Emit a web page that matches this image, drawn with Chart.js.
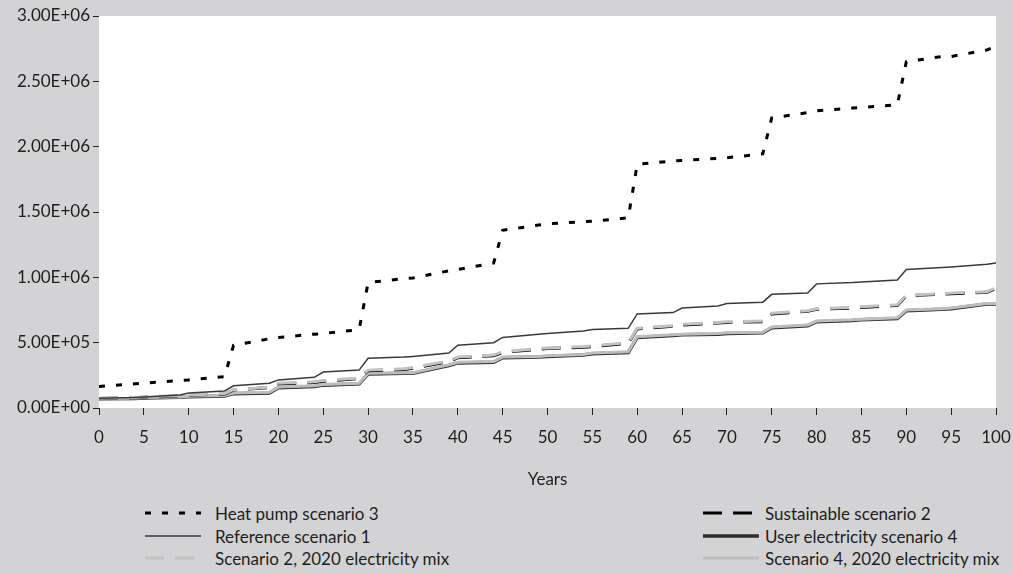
<!DOCTYPE html>
<html>
<head>
<meta charset="utf-8">
<script src="https://cdn.jsdelivr.net/npm/chart.js@4.4.1/dist/chart.umd.min.js"></script>
<style>
  html, body { margin:0; padding:0; background:#d3d3d5; width:1013px; height:574px; overflow:hidden; }
  #wrap { position:relative; width:1013px; height:574px; font-family: Lato, "Open Sans", sans-serif; color:#1e1e1e; }
  #c { position:absolute; left:0; top:0; }
  .leg { position:absolute; height:20px; display:flex; align-items:center; font-size:17px; white-space:nowrap; }
  .leg svg { display:block; }
</style>
</head>
<body>
<div id="wrap">
  <canvas id="c" width="1013" height="500"></canvas>
  <div id="legend"></div>
</div>
<script>
// ---- Data ----
const years = [0,4,5,9,10,14,15,19,20,24,25,29,30,34,35,39,40,44,45,49,50,54,55,59,60,64,65,69,70,74,75,79,80,84,85,89,90,94,95,99,100];

const heatPump3 = [165000,185000,190000,210000,215000,240000,480000,530000,540000,565000,570000,600000,960000,990000,995000,1050000,1060000,1110000,1360000,1400000,1410000,1425000,1430000,1455000,1865000,1890000,1895000,1910000,1915000,1945000,2220000,2260000,2275000,2295000,2300000,2320000,2650000,2690000,2690000,2740000,2770000];

const reference1 = [75000,80000,85000,100000,115000,130000,170000,190000,215000,235000,275000,290000,380000,390000,395000,420000,480000,500000,540000,565000,570000,590000,600000,610000,720000,730000,765000,780000,800000,810000,870000,880000,950000,960000,965000,980000,1060000,1075000,1080000,1100000,1110000];

const sustainable2 = [73000,78000,83000,92000,97000,107000,137000,157000,185000,195000,205000,225000,285000,295000,305000,355000,385000,400000,425000,450000,455000,465000,470000,495000,605000,625000,635000,650000,655000,660000,720000,740000,755000,765000,770000,785000,860000,870000,875000,885000,915000];

const scen2Mix2020 = [75000,80000,85000,95000,100000,110000,140000,160000,190000,200000,210000,230000,290000,300000,310000,360000,390000,405000,430000,455000,460000,470000,475000,500000,610000,630000,640000,655000,660000,665000,725000,745000,760000,770000,775000,790000,865000,875000,880000,890000,920000];

const userElec4 = [70000,73000,77000,82000,87000,92000,110000,115000,155000,165000,175000,185000,260000,265000,265000,325000,345000,350000,385000,390000,395000,405000,415000,425000,540000,555000,560000,565000,570000,575000,615000,630000,660000,670000,675000,685000,745000,755000,760000,795000,795000];

const scen4Mix2020 = [72000,75000,80000,85000,90000,95000,115000,120000,160000,170000,180000,190000,265000,270000,270000,330000,350000,355000,390000,395000,400000,410000,420000,430000,545000,560000,565000,570000,575000,580000,620000,635000,665000,675000,680000,690000,750000,760000,765000,800000,800000];

const seriesNames = ["Heat pump scenario 3","Reference scenario 1","Scenario 2, 2020 electricity mix","Sustainable scenario 2","User electricity scenario 4","Scenario 4, 2020 electricity mix"];
const yTickLabels = ["0.00E+00","5.00E+05","1.00E+06","1.50E+06","2.00E+06","2.50E+06","3.00E+06"];
const xTitle = "Years";

// ---- Styles ----
const styles = {
  "Heat pump scenario 3":            { color:"#000000", width:3,   dash:[6,11], order:1 },
  "Reference scenario 1":            { color:"#3a3a3a", width:1.5, dash:[],     order:2 },
  "Scenario 2, 2020 electricity mix":{ color:"#c2c2c2", width:3,   dash:[19,11],order:3 },
  "Sustainable scenario 2":          { color:"#000000", width:3,   dash:[19,11],order:4 },
  "User electricity scenario 4":     { color:"#2e2e2e", width:3.5, dash:[],     order:6 },
  "Scenario 4, 2020 electricity mix":{ color:"#bdbdbd", width:3,   dash:[],     order:5 }
};
const seriesValues = [heatPump3, reference1, scen2Mix2020, sustainable2, userElec4, scen4Mix2020];

const datasets = seriesNames.map((name, i) => ({
  label: name,
  data: years.map((yr, k) => ({ x: yr, y: seriesValues[i][k] })),
  borderColor: styles[name].color,
  borderWidth: styles[name].width,
  borderDash: styles[name].dash,
  order: styles[name].order,
  pointRadius: 0,
  tension: 0,
  fill: false
}));

const FONT = { family: "Lato, 'Open Sans', sans-serif", size: 17 };

const plotBg = {
  id: 'plotBg',
  beforeDraw(chart) {
    const { ctx, chartArea: a } = chart;
    ctx.save();
    ctx.fillStyle = '#ffffff';
    ctx.fillRect(a.left, a.top, a.right - a.left, a.bottom - a.top);
    ctx.restore();
  }
};

new Chart(document.getElementById('c'), {
  type: 'line',
  data: { datasets },
  plugins: [plotBg],
  options: {
    responsive: false,
    animation: false,
    layout: { padding: { left: 0, right: 17, top: 16, bottom: 0 } },
    plugins: { legend: { display: false }, tooltip: { enabled: false } },
    scales: {
      x: {
        type: 'linear', min: 0, max: 100,
        ticks: { stepSize: 5, font: FONT, color: '#1e1e1e', padding: 12, maxRotation: 0, autoSkip: false },
        grid: { drawOnChartArea: false, drawTicks: true, tickLength: 7, color: '#222', lineWidth: 1 },
        border: { display: false },
        title: { display: true, text: xTitle, font: FONT, color: '#1e1e1e', padding: { top: 4, bottom: 10 } },
        afterFit(s) { s.height = 92; s.paddingRight = 0; s.paddingLeft = 0; }
      },
      y: {
        min: 0, max: 3000000,
        ticks: { stepSize: 500000, font: FONT, color: '#1e1e1e', padding: 3,
                 callback: (v, i) => yTickLabels[i] },
        grid: { drawOnChartArea: false, drawTicks: true, tickLength: 6, color: '#222', lineWidth: 1 },
        border: { display: false },
        afterFit(s) { s.width = 99; s.paddingTop = 0; s.paddingBottom = 0; }
      }
    }
  }
});

// ---- HTML legend (two columns) ----
const legendCols = [
  { sampleX: 145, textX: 215, items: ["Heat pump scenario 3","Reference scenario 1","Scenario 2, 2020 electricity mix"] },
  { sampleX: 703, textX: 765, items: ["Sustainable scenario 2","User electricity scenario 4","Scenario 4, 2020 electricity mix"] }
];
const rowY = [513, 536, 558];
const legend = document.getElementById('legend');
legendCols.forEach(col => {
  col.items.forEach((name, r) => {
    const st = styles[name];
    const sw = 56;
    const item = document.createElement('div');
    item.className = 'leg';
    item.style.left = col.sampleX + 'px';
    item.style.top = (rowY[r] - 10) + 'px';
    const svgNS = 'http://www.w3.org/2000/svg';
    const svg = document.createElementNS(svgNS, 'svg');
    svg.setAttribute('width', sw);
    svg.setAttribute('height', 20);
    const ln = document.createElementNS(svgNS, 'line');
    ln.setAttribute('x1', 0); ln.setAttribute('x2', sw);
    ln.setAttribute('y1', 10); ln.setAttribute('y2', 10);
    ln.setAttribute('stroke', st.color);
    ln.setAttribute('stroke-width', st.width);
    if (st.dash.length) ln.setAttribute('stroke-dasharray', st.dash.join(','));
    svg.appendChild(ln);
    item.appendChild(svg);
    const span = document.createElement('span');
    span.textContent = name;
    span.style.marginLeft = (col.textX - col.sampleX - sw) + 'px';
    item.appendChild(span);
    legend.appendChild(item);
  });
});
</script>
</body>
</html>
